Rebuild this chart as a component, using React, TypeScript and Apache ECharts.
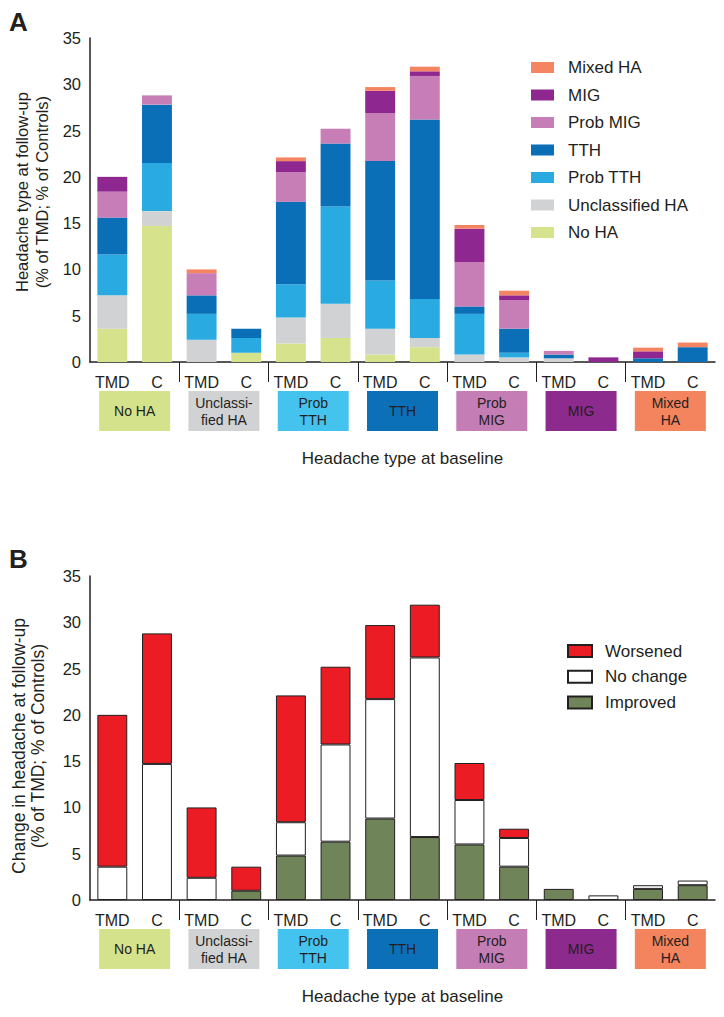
import React, { useEffect, useRef } from 'react';
import * as echarts from 'echarts';

// Baseline headache groups (box labels) and their box colours
const groups = ['No HA', 'Unclassi-\nfied HA', 'Prob\nTTH', 'TTH', 'Prob\nMIG', 'MIG', 'Mixed\nHA'];
const groupColors = ['#d4e28c', '#d1d2d4', '#45c3ef', '#0b70b8', '#c57db6', '#8c2a8d', '#f3845e'];
const subjects = ['TMD', 'C'];
const categories = groups.flatMap((g, gi) => subjects.map((s) => `${gi}|${s}`));

// Panel A: headache type at follow-up (stack order bottom -> top)
const seriesNamesA = ['No HA', 'Unclassified HA', 'Prob TTH', 'TTH', 'Prob MIG', 'MIG', 'Mixed HA'];
const colorsA = ['#d6e38c', '#d1d2d4', '#29abe2', '#0b6fb8', '#c77db5', '#8e278f', '#f58462'];
const noHA = [3.6, 14.7, 0, 1.0, 2.0, 2.6, 0.8, 1.6, 0, 0, 0, 0, 0, 0];
const unclassifiedHA = [3.6, 1.6, 2.4, 0, 2.8, 3.7, 2.8, 1.0, 0.8, 0.5, 0.4, 0, 0, 0];
const probTTH = [4.4, 5.2, 2.8, 1.6, 3.6, 10.5, 5.2, 4.2, 4.4, 0.5, 0, 0, 0, 0];
const tth = [4.0, 6.3, 2.0, 1.0, 8.9, 6.8, 12.9, 19.4, 0.8, 2.6, 0.4, 0, 0.4, 1.6];
const probMIG = [2.8, 1.0, 2.4, 0, 3.2, 1.6, 5.2, 4.7, 4.8, 3.1, 0.4, 0, 0, 0];
const mig = [1.6, 0, 0, 0, 1.2, 0, 2.4, 0.5, 3.6, 0.5, 0, 0.5, 0.75, 0];
const mixedHA = [0, 0, 0.4, 0, 0.4, 0, 0.4, 0.5, 0.4, 0.5, 0, 0, 0.4, 0.5];
const valuesA = [noHA, unclassifiedHA, probTTH, tth, probMIG, mig, mixedHA];

// Panel B: change in headache at follow-up (stack order bottom -> top)
const seriesNamesB = ['Improved', 'No change', 'Worsened'];
const colorsB = ['#70845a', '#ffffff', '#ec1c24'];
const improved = [0, 0, 0, 1.0, 4.8, 6.3, 8.8, 6.8, 6.0, 3.6, 1.2, 0, 1.2, 1.6];
const noChange = [3.6, 14.7, 2.4, 0, 3.6, 10.5, 12.9, 19.4, 4.8, 3.1, 0, 0.5, 0.4, 0.5];
const worsened = [16.4, 14.1, 7.6, 2.6, 13.7, 8.4, 8.0, 5.7, 4.0, 1.0, 0, 0, 0, 0];
const valuesB = [improved, noChange, worsened];

const yTitleA = 'Headache type at follow-up\n(% of TMD; % of Controls)';
const yTitleB = 'Change in headache at follow-up\n(% of TMD; % of Controls)';
const xTitle = 'Headache type at baseline';

export default function App() {
  const ref = useRef<HTMLDivElement>(null);

  useEffect(() => {
    document.body.style.margin = '0';
    const chart = echarts.init(ref.current!, null, { renderer: 'svg' });
    const font = "'Liberation Sans', Arial, sans-serif";
    const ink = '#231f20';

    const catAxis = (gi: number) => ({
      type: 'category',
      gridIndex: gi,
      data: categories,
      position: 'bottom',
      axisLine: { lineStyle: { color: ink, width: 1.5 } },
      axisTick: { show: false },
      axisLabel: {
        interval: 0,
        color: ink,
        fontSize: 16,
        margin: 12,
        fontFamily: font,
        formatter: (v: string) => v.split('|')[1],
      },
      name: xTitle,
      nameLocation: 'middle',
      nameGap: 88,
      nameTextStyle: { fontSize: 17, color: ink, fontFamily: font },
    });
    const tickAxis = (gi: number) => ({
      type: 'value',
      gridIndex: gi,
      min: 0,
      max: groups.length,
      position: 'bottom',
      axisLine: { show: false },
      axisLabel: { show: false },
      splitLine: { show: false },
      axisTick: {
        show: true,
        length: 20,
        customValues: groups.map((_, i) => i).slice(1),
        lineStyle: { color: ink, width: 1 },
      },
    });
    const valAxis = (gi: number, name: string, gap: number, fs: number, lh: number, pad: number[]) => ({
      type: 'value',
      gridIndex: gi,
      min: 0,
      max: 35,
      interval: 5,
      axisLine: { show: true, lineStyle: { color: ink, width: 1.5 } },
      axisTick: { show: false },
      splitLine: { show: false },
      axisLabel: { color: ink, fontSize: 16.5, margin: 9, fontFamily: font },
      name,
      nameLocation: 'middle',
      nameGap: gap,
      nameRotate: 90,
      nameTextStyle: { fontSize: fs, lineHeight: lh, color: ink, fontFamily: font, padding: pad },
    });

    const seriesA = seriesNamesA.map((name, i) => ({
      name,
      type: 'bar',
      stack: 'a',
      xAxisIndex: 0,
      yAxisIndex: 0,
      barCategoryGap: '33%',
      data: valuesA[i],
      itemStyle: { color: colorsA[i] },
    }));
    const seriesB = seriesNamesB.map((name, i) => ({
      name,
      type: 'bar',
      stack: 'b',
      xAxisIndex: 2,
      yAxisIndex: 1,
      barCategoryGap: '33%',
      data: valuesB[i].map((v) => (v === 0 ? '-' : v)),
      itemStyle: { color: colorsB[i], borderColor: ink, borderWidth: 1 },
    }));

    chart.setOption({
      animation: false,
      textStyle: { fontFamily: font, color: ink },
      title: [
        { text: 'A', left: 9, top: 9, padding: 0, textStyle: { fontSize: 26, fontWeight: 'bold', color: ink, fontFamily: font } },
        { text: 'B', left: 9, top: 546, padding: 0, textStyle: { fontSize: 26, fontWeight: 'bold', color: ink, fontFamily: font } },
      ],
      grid: [
        { left: 90, top: 38, width: 625, height: 324 },
        { left: 90, top: 576, width: 625, height: 324 },
      ],
      xAxis: [catAxis(0), tickAxis(0), catAxis(1), tickAxis(1)],
      yAxis: [
        valAxis(0, yTitleA, 31, 16.5, 20, [0, 0, 0, 16]),
        valAxis(1, yTitleB, 43, 17.5, 19, [0, 16, 0, 0]),
      ],
      legend: [
        {
          data: [...seriesNamesA].reverse(),
          orient: 'vertical',
          left: 531,
          top: 59,
          padding: 0,
          itemWidth: 23,
          itemHeight: 11,
          itemGap: 10.5,
          icon: 'rect',
          selectedMode: false,
          textStyle: { fontSize: 17, color: ink, fontFamily: font, padding: [0, 0, 0, 9] },
        },
        {
          data: [...seriesNamesB].reverse(),
          orient: 'vertical',
          left: 567,
          top: 642.5,
          padding: 0,
          itemWidth: 24,
          itemHeight: 12,
          itemGap: 8.7,
          icon: 'rect',
          selectedMode: false,
          textStyle: { fontSize: 17, color: ink, fontFamily: font, padding: [0, 0, 0, 8] },
        },
      ],
      series: [...seriesA, ...seriesB],
    });

    const graphics: any[] = [];
    [0, 1].forEach((p) => {
      const base = chart.convertToPixel({ yAxisIndex: p }, 0) as number;
      groups.forEach((g, gi) => {
        const cx = chart.convertToPixel({ xAxisIndex: p * 2 + 1 }, gi + 0.5) as number;
        graphics.push({
          type: 'rect',
          shape: { x: cx - 35.5, y: base + 29, width: 71, height: 40 },
          style: { fill: groupColors[gi] },
          silent: true,
        });
        graphics.push({
          type: 'text',
          x: cx,
          y: base + 49,
          style: {
            text: g,
            fill: ink,
            font: `14px ${font}`,
            align: 'center',
            verticalAlign: 'middle',
            lineHeight: 17,
          },
          silent: true,
        });
      });
    });
    chart.setOption({ graphic: graphics });

    return () => chart.dispose();
  }, []);

  return <div ref={ref} style={{ width: 724, height: 1017 }} />;
}
